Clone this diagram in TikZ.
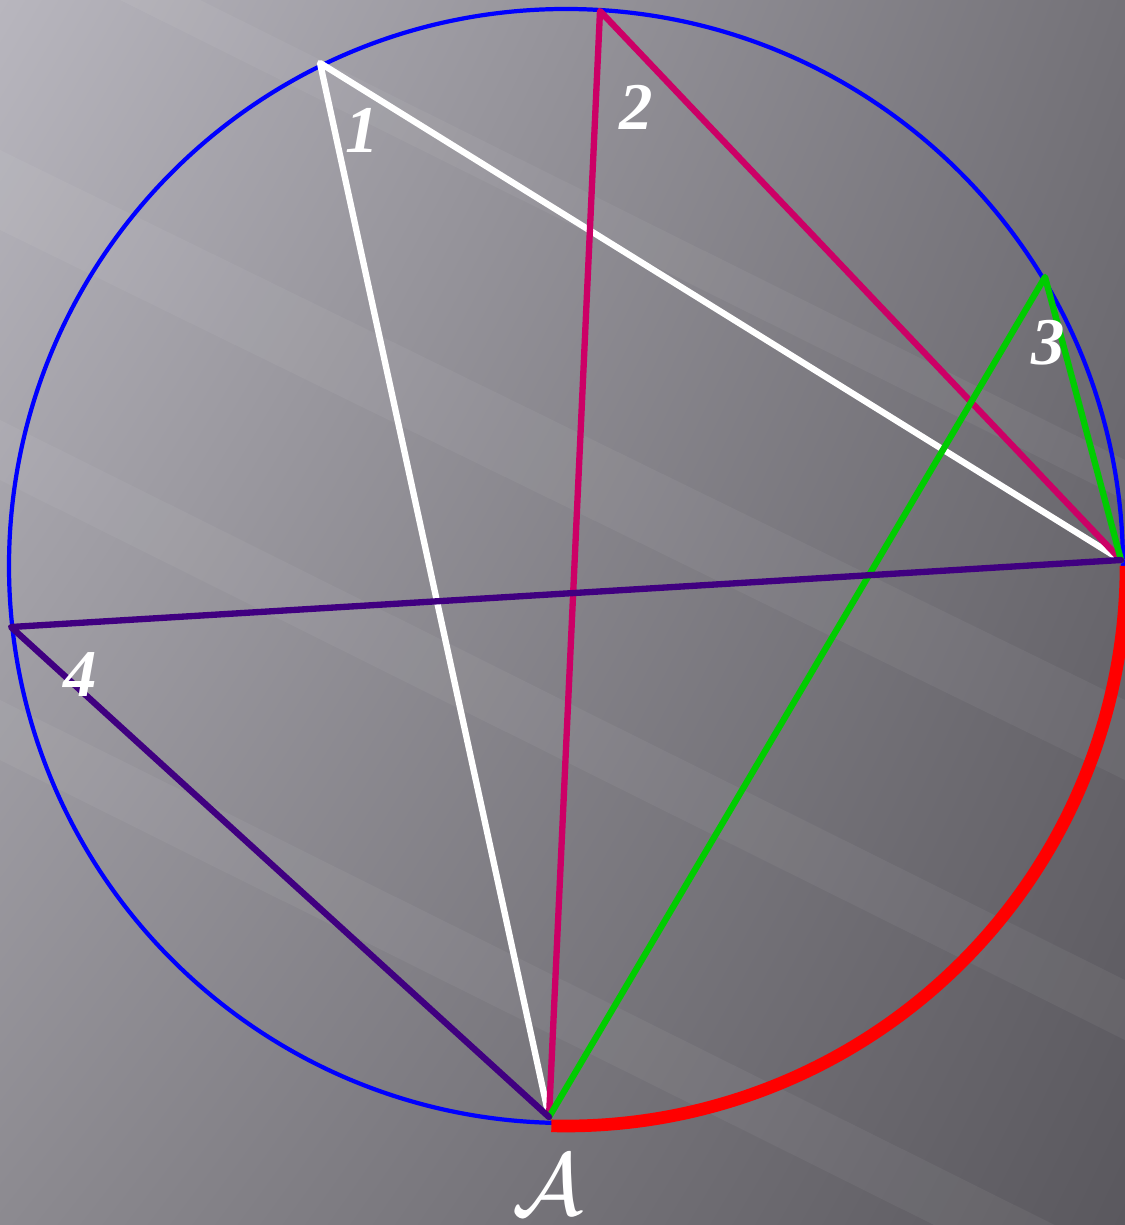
\documentclass[tikz,border=0pt]{standalone}
\usepackage{fontspec}
\setmainfont{Liberation Serif}
\usetikzlibrary{shadings}
\begin{document}
\begin{tikzpicture}[x=0.01cm,y=-0.01cm]
  \tikzset{chord/.style={line width=1.8pt,line cap=round,line join=round},
    lbl/.style={text=white,font=\fontsize{19}{19}\selectfont\bfseries\itshape,inner sep=0pt},
    streak/.style={fill=white,opacity=0.05}}
  \definecolor{bgA}{HTML}{B8B6BE}\definecolor{bgB}{HTML}{747278}
  \definecolor{bgC}{HTML}{8C8A90}\definecolor{bgD}{HTML}{5A585E}
  \definecolor{mag}{HTML}{CC0066}\definecolor{grn}{HTML}{00CC00}
  \definecolor{ind}{HTML}{400080}
  \useasboundingbox (0,0) rectangle (1125,1225);
  \clip (0,0) rectangle (1125,1225);
  \shade[upper left=bgA,upper right=bgB,lower left=bgC,lower right=bgD] (0,0) rectangle (1125,1225);
  % light streaks
  \fill[streak] (0,150) -- (1125,700) -- (1125,780) -- (0,230) -- cycle;
  \fill[streak] (0,420) -- (1125,980) -- (1125,1040) -- (0,480) -- cycle;
  \fill[streak] (0,700) -- (1125,1260) -- (1125,1320) -- (0,760) -- cycle;
  \fill[streak] (200,0) -- (1125,460) -- (1125,500) -- (120,0) -- cycle;
  \coordinate (o) at (566,566);
  \coordinate (a) at (549,1117);
  \coordinate (b) at (1121,560);
  \coordinate (p1) at (320,63);
  \coordinate (p2) at (600,11);
  \coordinate (p3) at (1045,277);
  \coordinate (p4) at (11,627);
  \draw[blue,line width=1.2pt] (o) circle (557);
  \draw[red,line width=3.6pt] (o) ++(91.5:560) arc (91.5:0:560);
  \draw[chord,white] (a)--(p1)--(b);
  \draw[chord,mag] (a)--(p2)--(b);
  \draw[chord,grn] (a)--(p3)--(b);
  \draw[chord,ind] (a)--(p4)--(b);
  \node[lbl] (n1) at (362,130) {1};
  \node[lbl] (n2) at (636,107) {2};
  \node[lbl] (n3) at (1048,343) {3};
  \node[lbl] (n4) at (80,675) {4};
  \node[lbl,font={\fontsize{27}{27}\selectfont}] (na) at (548,1185) {\rlap{$\mathcal{A}$}\hspace{0.5pt}$\mathcal{A}$};
\end{tikzpicture}
\end{document}
